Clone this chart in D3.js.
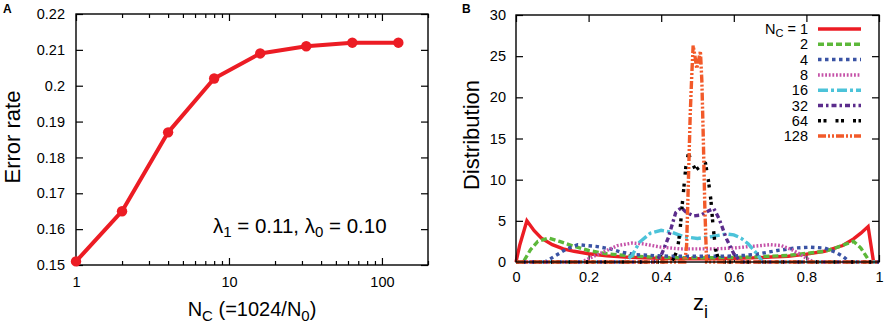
<!DOCTYPE html>
<html>
<head>
<meta charset="utf-8">
<script src="https://cdn.jsdelivr.net/npm/d3@7"></script>
<style>
body { margin: 0; background: #fff; }
svg { display: block; font-family: "Liberation Sans", Arial, Helvetica, sans-serif; }
</style>
</head>
<body>
<svg id="fig" width="886" height="326"></svg>
<script>
// panel A: error rate vs number of clusters
const ncValues = [1, 2, 4, 8, 16, 32, 64, 128]
const errorRate = [0.151, 0.165, 0.187, 0.202, 0.209, 0.211, 0.212, 0.212]
const errorTicks = [0.15, 0.16, 0.17, 0.18, 0.19, 0.2, 0.21, 0.22]
const ncMajorTicks = [1, 10, 100]

// panel B: distribution of z_i for each N_C
const zTicks = [0, 0.2, 0.4, 0.6, 0.8, 1]
const distTicks = [0, 5, 10, 15, 20, 25, 30]
const legendLabels = ['1', '2', '4', '8', '16', '32', '64', '128']

const z1 = [0, 0.01, 0.03, 0.05, 0.07, 0.1, 0.13, 0.16, 0.2, 0.25, 0.3, 0.35, 0.4, 0.45, 0.5, 0.55, 0.6, 0.65, 0.7, 0.75, 0.8, 0.85, 0.9, 0.93, 0.95, 0.97, 0.985, 1]
const d1 = [0, 2.0, 5.0, 3.8, 2.9, 2.1, 1.6, 1.3, 1.0, 0.75, 0.6, 0.5, 0.45, 0.4, 0.4, 0.4, 0.45, 0.5, 0.6, 0.7, 0.95, 1.3, 2.0, 2.8, 3.5, 4.3, 0, 0]
const z2 = [0, 0.02, 0.04, 0.06, 0.09, 0.12, 0.16, 0.2, 0.25, 0.3, 0.35, 0.4, 0.5, 0.6, 0.65, 0.7, 0.75, 0.8, 0.85, 0.88, 0.91, 0.93, 0.95, 0.975, 1]
const d2 = [0, 0, 1.5, 2.5, 2.9, 2.5, 1.9, 1.4, 1.0, 0.8, 0.65, 0.55, 0.5, 0.55, 0.6, 0.7, 0.8, 1.05, 1.3, 1.7, 2.2, 2.5, 1.7, 0, 0]
const z4 = [0, 0.08, 0.11, 0.14, 0.17, 0.22, 0.26, 0.29, 0.33, 0.37, 0.42, 0.5, 0.58, 0.63, 0.67, 0.72, 0.77, 0.81, 0.85, 0.88, 0.9, 0.92, 1]
const d4 = [0, 0, 0.8, 1.6, 2.1, 1.9, 1.6, 1.2, 0.9, 0.8, 0.7, 0.7, 0.7, 0.8, 1.0, 1.4, 1.7, 1.8, 1.7, 1.2, 0.7, 0, 0]
const z8 = [0, 0.18, 0.2, 0.24, 0.28, 0.32, 0.35, 0.4, 0.45, 0.5, 0.55, 0.6, 0.65, 0.7, 0.73, 0.76, 0.78, 0.8, 0.82, 1]
const d8 = [0, 0, 0.4, 1.2, 2.0, 2.3, 2.2, 1.8, 1.6, 1.6, 1.6, 1.7, 1.9, 2.1, 2.0, 1.5, 1.0, 0.45, 0, 0]
const z16 = [0, 0.3, 0.32, 0.34, 0.37, 0.4, 0.43, 0.46, 0.5, 0.54, 0.58, 0.6, 0.62, 0.64, 0.66, 0.68, 1]
const d16 = [0, 0, 0.8, 2.4, 3.5, 3.85, 3.6, 3.1, 2.85, 3.1, 3.4, 3.3, 2.9, 2.2, 1.2, 0, 0]
const z32 = [0, 0.38, 0.4, 0.42, 0.44, 0.455, 0.47, 0.49, 0.51, 0.53, 0.545, 0.56, 0.58, 0.6, 0.62, 1]
const d32 = [0, 0, 0.8, 3.0, 6.0, 6.6, 6.0, 5.6, 5.7, 6.2, 6.5, 5.2, 2.8, 1.0, 0, 0]
const z64 = [0, 0.43, 0.445, 0.452, 0.458, 0.463, 0.468, 0.475, 0.485, 0.495, 0.505, 0.515, 0.522, 0.53, 0.537, 0.543, 0.55, 0.56, 1]
const d64 = [0, 0, 1.5, 3.9, 7.0, 9.3, 11.6, 13.2, 12.0, 11.2, 11.5, 12.2, 12.0, 9.9, 7.5, 4.3, 1.5, 0, 0]
const z128 = [0, 0.465, 0.47, 0.475, 0.48, 0.484, 0.488, 0.493, 0.498, 0.503, 0.508, 0.512, 0.516, 0.52, 0.525, 0.53, 1]
const d128 = [0, 0, 2, 10, 18, 22.5, 26.3, 25, 23.5, 24.5, 25.6, 22, 15, 7, 0, 0, 0]

const seriesZ = [z1, z2, z4, z8, z16, z32, z64, z128]
const seriesD = [d1, d2, d4, d8, d16, d32, d64, d128]

// line styles, gnuplot-like
const styles = [
	{color: '#ec1c24', dash: null},
	{color: '#5cb83a', dash: '6,3'},
	{color: '#3a53a4', dash: '3.5,3.5'},
	{color: '#c552a8', dash: '1.8,1.8'},
	{color: '#4cc3d9', dash: '10,3,3,3'},
	{color: '#5b2c8c', dash: '5,3,2.5,3'},
	{color: '#000000', dash: '3,2.5,3,9'},
	{color: '#f25a2a', dash: '8,2,2,2,2,2'}
]

const svg = d3.select('#fig')
const tickFont = 14.5

function styleAxis(g) {
	g.select('.domain').remove()
	g.selectAll('line').attr('stroke', '#000').attr('stroke-width', 1.2)
	g.selectAll('text')
		.attr('font-size', tickFont)
		.attr('fill', '#000')
	g.attr('font-family', null)
}

// ---------- panel A ----------
const A = {l: 76, r: 428, t: 14, b: 265}
const xA = d3.scaleLog().domain([1, 200]).range([A.l, A.r])
const yA = d3.scaleLinear().domain([0.15, 0.22]).range([A.b, A.t])
const minorA = xA.ticks().filter(d => !ncMajorTicks.includes(d))
const gA = svg.append('g')

gA.append('g')
	.attr('transform', `translate(0,${A.b})`)
	.call(d3.axisBottom(xA).tickValues(ncMajorTicks).tickSize(-7).tickPadding(12).tickFormat(d3.format('d')))
	.call(styleAxis)
gA.append('g')
	.attr('transform', `translate(0,${A.b})`)
	.call(d3.axisBottom(xA).tickValues(minorA).tickSize(-4).tickFormat(''))
	.call(styleAxis)
gA.append('g')
	.attr('transform', `translate(0,${A.t})`)
	.call(d3.axisTop(xA).tickValues(ncMajorTicks).tickSize(-7).tickFormat(''))
	.call(styleAxis)
gA.append('g')
	.attr('transform', `translate(0,${A.t})`)
	.call(d3.axisTop(xA).tickValues(minorA).tickSize(-4).tickFormat(''))
	.call(styleAxis)
gA.append('g')
	.attr('transform', `translate(${A.l},0)`)
	.call(d3.axisLeft(yA).tickValues(errorTicks).tickSize(-7).tickPadding(11).tickFormat(d => +d.toFixed(2)))
	.call(styleAxis)
gA.append('g')
	.attr('transform', `translate(${A.r},0)`)
	.call(d3.axisRight(yA).tickValues(errorTicks).tickSize(-7).tickFormat(''))
	.call(styleAxis)

gA.append('rect')
	.attr('x', A.l).attr('y', A.t)
	.attr('width', A.r - A.l).attr('height', A.b - A.t)
	.attr('fill', 'none').attr('stroke', '#000').attr('stroke-width', 1.4)

const ptsA = ncValues.map((n, i) => [n, errorRate[i]])
gA.append('path')
	.datum(ptsA)
	.attr('d', d3.line().x(d => xA(d[0])).y(d => yA(d[1])))
	.attr('fill', 'none')
	.attr('stroke', '#ec1c24')
	.attr('stroke-width', 4)
	.attr('stroke-linejoin', 'round')
gA.selectAll('circle')
	.data(ptsA)
	.join('circle')
	.attr('cx', d => xA(d[0]))
	.attr('cy', d => yA(d[1]))
	.attr('r', 5.2)
	.attr('fill', '#ec1c24')

let ann = gA.append('text')
	.attr('x', 213).attr('y', 233)
	.attr('font-size', 20.5)
ann.append('tspan').text('λ')
ann.append('tspan').attr('font-size', 15).attr('dy', 4).text('1')
ann.append('tspan').attr('dy', -4).text(' = 0.11, λ')
ann.append('tspan').attr('font-size', 15).attr('dy', 4).text('0')
ann.append('tspan').attr('dy', -4).text(' = 0.10')

let xlabA = gA.append('text')
	.attr('x', 252).attr('y', 316)
	.attr('text-anchor', 'middle')
	.attr('font-size', 20)
xlabA.append('tspan').text('N')
xlabA.append('tspan').attr('font-size', 15).attr('dy', 5).text('C')
xlabA.append('tspan').attr('dy', -5).text(' (=1024/N')
xlabA.append('tspan').attr('font-size', 15).attr('dy', 5).text('0')
xlabA.append('tspan').attr('dy', -5).text(')')

gA.append('text')
	.attr('transform', 'translate(20,137) rotate(-90)')
	.attr('text-anchor', 'middle')
	.attr('font-size', 22)
	.text('Error rate')

gA.append('text')
	.attr('x', 3).attr('y', 13)
	.attr('font-size', 12).attr('font-weight', 'bold')
	.text('A')

// ---------- panel B ----------
const B = {l: 516, r: 879, t: 15, b: 262}
const xB = d3.scaleLinear().domain([0, 1]).range([B.l, B.r])
const yB = d3.scaleLinear().domain([0, 30]).range([B.b, B.t])
const gB = svg.append('g')

gB.append('g')
	.attr('transform', `translate(0,${B.b})`)
	.call(d3.axisBottom(xB).tickValues(zTicks).tickSize(-7).tickPadding(10).tickFormat(d => d))
	.call(styleAxis)
gB.append('g')
	.attr('transform', `translate(0,${B.t})`)
	.call(d3.axisTop(xB).tickValues(zTicks).tickSize(-7).tickFormat(''))
	.call(styleAxis)
gB.append('g')
	.attr('transform', `translate(${B.l},0)`)
	.call(d3.axisLeft(yB).tickValues(distTicks).tickSize(-7).tickPadding(10))
	.call(styleAxis)
gB.append('g')
	.attr('transform', `translate(${B.r},0)`)
	.call(d3.axisRight(yB).tickValues(distTicks).tickSize(-7).tickFormat(''))
	.call(styleAxis)

const lineB = d3.line().x(d => xB(d[0])).y(d => yB(d[1]))
seriesZ.forEach((zs, i) => {
	let pts = zs.map((z, j) => [z, seriesD[i][j]])
	gB.append('path')
		.datum(pts)
		.attr('d', lineB)
		.attr('fill', 'none')
		.attr('stroke', styles[i].color)
		.attr('stroke-width', 3.4)
		.attr('stroke-dasharray', styles[i].dash)
})

gB.append('rect')
	.attr('x', B.l).attr('y', B.t)
	.attr('width', B.r - B.l).attr('height', B.b - B.t)
	.attr('fill', 'none').attr('stroke', '#000').attr('stroke-width', 1.4)

// legend
const leg = gB.append('g')
legendLabels.forEach((lab, i) => {
	let y = 29 + i * 15.3
	let t = leg.append('text')
		.attr('x', 808).attr('y', y + 5)
		.attr('text-anchor', 'end')
		.attr('font-size', tickFont)
	if (i === 0) {
		t.append('tspan').text('N')
		t.append('tspan').attr('font-size', 11).attr('dy', 3).text('C')
		t.append('tspan').attr('dy', -3).text(' = ' + lab)
	} else {
		t.text(lab)
	}
	leg.append('line')
		.attr('x1', 818).attr('x2', 861)
		.attr('y1', y).attr('y2', y)
		.attr('stroke', styles[i].color)
		.attr('stroke-width', 3.5)
		.attr('stroke-dasharray', styles[i].dash)
})

let xlabB = gB.append('text')
	.attr('x', 693).attr('y', 310)
	.attr('font-size', 22)
xlabB.append('tspan').text('z')
xlabB.append('tspan').attr('font-size', 18).attr('dy', 8).text('i')

gB.append('text')
	.attr('transform', 'translate(479,135) rotate(-90)')
	.attr('text-anchor', 'middle')
	.attr('font-size', 22)
	.text('Distribution')

gB.append('text')
	.attr('x', 462).attr('y', 13)
	.attr('font-size', 12).attr('font-weight', 'bold')
	.text('B')
</script>
</body>
</html>
